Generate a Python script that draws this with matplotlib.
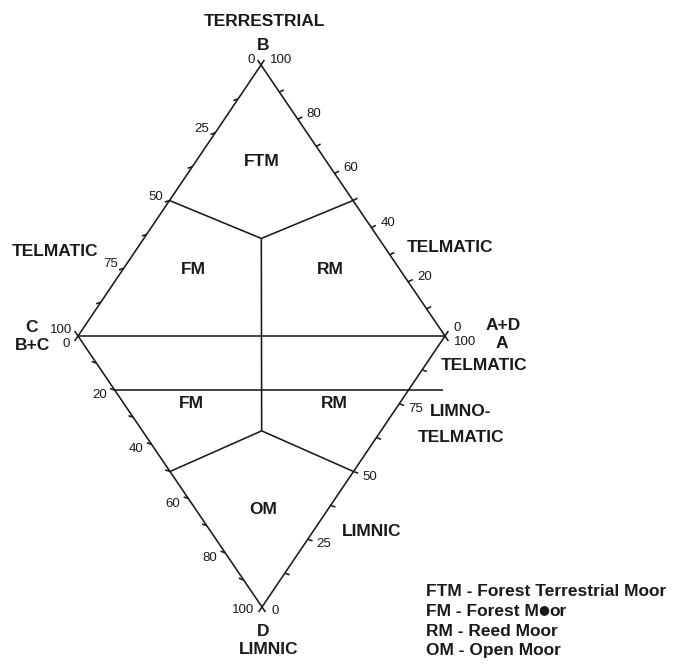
import matplotlib
matplotlib.use('Agg')
import matplotlib.pyplot as plt
import numpy as np

# ---------------- data ----------------
ul_labels = [0, 25, 50, 75, 100]          # B -> C edge (upper left)
ul_minor_step = 12.5
ur_labels = [100, 80, 60, 40, 20, 0]      # B axis along A -> B edge (upper right)
ur_minor_step = 10
ll_labels = [0, 20, 40, 60, 80, 100]      # C -> D edge (lower left)
ll_minor_step = 10
lr_labels = [0, 25, 50, 75, 100]          # D -> A edge (lower right)
lr_minor_step = 12.5

upper_boundary_left = 50    # on B->C edge
upper_boundary_right = 50   # on A->B edge
upper_junction_B = 36       # % B at the upper junction
lower_boundary_left = 50    # on C->D edge
lower_boundary_right = 50   # on D->A edge
lower_junction_D = 35       # % D at the lower junction
split_line_left = 20        # on C->D edge
split_line_right = 80       # on D->A edge

zone_names = ["FTM", "FM", "RM", "FM", "RM", "OM"]
legend_lines = ["FTM - Forest Terrestrial Moor", "FM - Forest M\u25cfor",
                "RM - Reed Moor", "OM - Open Moor"]

# ---------------- layout ----------------
W, H = 674, 664
fig = plt.figure(figsize=(W / 100, H / 100), dpi=100)
ax = fig.add_axes([0, 0, 1, 1])
ax.set_xlim(0, W)
ax.set_ylim(H, 0)
ax.axis('off')

FONT = ['Liberation Sans', 'DejaVu Sans']
LW = 1.15
INK = '#1a1a1a'
B = np.array([261.0, 65.0])
C = np.array([78.0, 336.0])
A = np.array([445.0, 336.0])
D = np.array([262.0, 607.0])


def on(P, Q, v):
    return P + (Q - P) * v / 100.0


def seg(P, Q):
    ax.plot([P[0], Q[0]], [P[1], Q[1]], color=INK, lw=LW,
            solid_capstyle='butt')


def unit(v):
    v = np.asarray(v, float)
    return v / np.hypot(*v)


# edges with small extensions past the vertices (cross marks)
ext = 6
for P, Q in [(B, C), (A, B), (C, D), (D, A)]:
    d = unit(Q - P)
    seg(P - d * ext, Q + d * ext)


# ticks
def ticks(P, Q, step, direction, length=5):
    d = unit(direction)
    for v in np.arange(step, 100, step):
        p = on(P, Q, v)
        seg(p, p + d * length)


ticks(B, C, ul_minor_step, (-1, 0.35))
ticks(A, B, ur_minor_step, (1, -0.5))
ticks(C, D, ll_minor_step, (-1, -0.35))
ticks(D, A, lr_minor_step, (1, 0.35))

# tick labels
TS = 9.5


def tlabel(P, Q, values, dx, dy, ha, end_dy=None):
    for v in values:
        p = on(P, Q, v)
        yy = dy
        if end_dy is not None and v in end_dy:
            yy = end_dy[v]
        ax.text(p[0] + dx, p[1] + yy, f"{v}", fontsize=TS, ha=ha,
                va='center', family=FONT, color=INK)


tlabel(B, C, ul_labels, -6, -4, 'right', {100: -6, 0: -5})
tlabel(A, B, ur_labels, 9, -5, 'left', {0: -8, 100: -5})
tlabel(C, D, ll_labels, -8, 5, 'right', {0: 8, 100: 3})
tlabel(D, A, lr_labels, 9, 5, 'left', {100: 6, 0: 4})

# horizontal line C-A
seg(C, A)

# upper Y boundary
ul_pt = on(B, C, upper_boundary_left)
ur_pt = on(A, B, upper_boundary_right)
rest = (100 - upper_junction_B) / 2
uj = (B * upper_junction_B + C * rest + A * rest) / 100
seg(ul_pt, uj)
seg(ur_pt, uj)

# lower boundary
ll_pt = on(C, D, lower_boundary_left)
lr_pt = on(D, A, lower_boundary_right)
rest = (100 - lower_junction_D) / 2
lj = (D * lower_junction_D + C * rest + A * rest) / 100
seg(ll_pt, lj)
seg(lr_pt, lj)

# vertical central line
seg(uj, lj)

# split line at 20 (extends past the right edge)
sl = on(C, D, split_line_left)
sr = on(D, A, split_line_right)
seg(sl, np.array([sr[0] + 35, sr[1]]))


# bold texts
def btext(x, y, s, size=12.5, ha='center', family=None):
    return ax.text(x, y, s, fontsize=size, fontweight='bold', ha=ha,
                   va='center', family=family or FONT, color=INK)


btext(264, 22, "TERRESTRIAL")
btext(263, 45, "B")
btext(31, 328, "C")
btext(32, 345, "B+C")
btext(55, 251, "TELMATIC")
btext(450, 247, "TELMATIC")
btext(503, 326, "A+D")
btext(502, 343, "A")
btext(484, 366, "TELMATIC")
btext(461, 412, "LIMNO-")
btext(461, 437, "TELMATIC")
btext(372, 532, "LIMNIC")
btext(263, 631, "D")
btext(269, 649, "LIMNIC")

zone_pos = [(262, 161), (193, 270), (330, 270), (191, 404), (334, 404), (263, 510)]
for name, (x, y) in zip(zone_names, zone_pos):
    btext(x, y, name)

# legend; the bullet glyph is drawn in a family where it is o-sized
renderer = fig.canvas.get_renderer()
for i, line in enumerate(legend_lines):
    y = 592 + i * 19.6
    if '\u25cf' in line:
        parts = line.split('\u25cf')
        x = 426.0
        pieces = [(parts[0], FONT, 12.5, 0.0, 0.0),
                  ('\u25cf', ['DejaVu Sans'], 9.0, -0.3, -2.3),
                  (parts[1], FONT, 12.5, -0.5, 0.0)]
        for txt, fam, size, dx, dy in pieces:
            x += dx
            t = btext(x, y + dy, txt, size=size, ha='left', family=fam)
            bb = t.get_window_extent(renderer)
            x += bb.width * (W / fig.bbox.width)
    else:
        btext(426, y, line, ha='left')

fig.savefig('out.png', dpi=100, facecolor='white')
